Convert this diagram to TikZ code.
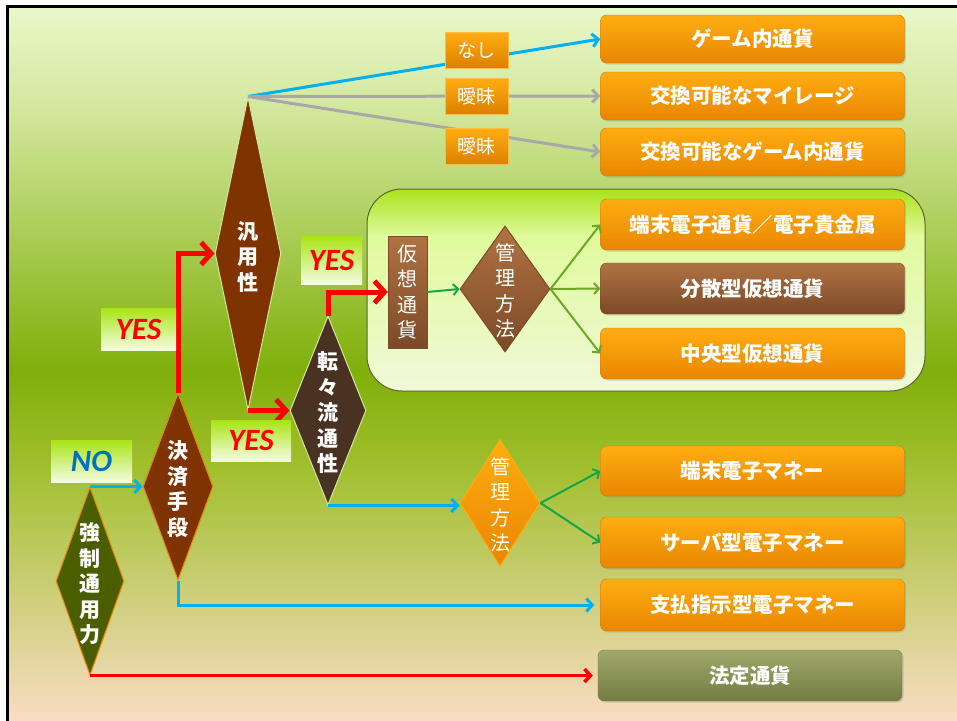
\documentclass[tikz,border=0pt]{standalone}
\usepackage{fontspec}
\newfontfamily\jp{Noto Sans CJK JP}
\newfontfamily\yesfont{Carlito}
\usetikzlibrary{arrows.meta,shapes.geometric,shadows}
\definecolor{bgA}{HTML}{E9F8CA}
\definecolor{bgB}{HTML}{D2E79C}
\definecolor{bgC}{HTML}{80AF0A}
\definecolor{bgD}{HTML}{A2C030}
\definecolor{bgE}{HTML}{FADDC6}
\definecolor{orT}{HTML}{FFAD12}
\definecolor{orB}{HTML}{E98600}
\definecolor{orD}{HTML}{C47A10}
\definecolor{brT}{HTML}{B07242}
\definecolor{brB}{HTML}{7C4A28}
\definecolor{olT}{HTML}{A0A86A}
\definecolor{olB}{HTML}{737C44}
\definecolor{dkbrown}{HTML}{7F3300}
\definecolor{dkolive}{HTML}{4A5E00}
\definecolor{dkgray}{HTML}{4A3222}
\definecolor{pnT}{HTML}{A6E012}
\definecolor{pnM}{HTML}{E0FA9C}
\definecolor{pnB}{HTML}{F0F9DA}
\definecolor{ybT}{HTML}{A8E414}
\definecolor{ybM}{HTML}{E6FBB0}
\definecolor{ybB}{HTML}{F4FCE2}
\definecolor{skyblue}{HTML}{00B0F0}
\definecolor{nogray}{HTML}{A8A8A8}
\definecolor{grn}{HTML}{12A848}
\definecolor{olgrn}{HTML}{6CA826}
\definecolor{noblue}{HTML}{0070C0}
\tikzset{
  obox/.style={rectangle, rounded corners=6pt, minimum width=304pt, minimum height=#1,
    inner sep=0pt, draw=orD, top color=orT, bottom color=orB, text=white,
    drop shadow={opacity=0.25, shadow xshift=1.5pt, shadow yshift=-1.5pt},
    font=\jp\bfseries\fontsize{20.5}{24}\selectfont},
  obox/.default=48pt,
  lbox/.style={rectangle, minimum width=63pt, minimum height=36pt, inner sep=0pt,
    draw=orT!80!white, top color=orT, bottom color=orB!95!black, text=white,
    font=\jp\fontsize{19}{22}\selectfont},
  ybox/.style={rectangle, minimum width=#1, inner sep=0pt,
    top color=ybT, middle color=ybM, bottom color=ybB,
    font=\yesfont\bfseries\itshape\fontsize{31}{32}\selectfont, text=red},
  dia/.style={diamond, inner sep=0pt, line width=1pt},
  vtext/.style={text=white, align=center, inner sep=0pt,
    font=\jp\bfseries\fontsize{21}{25.5}\selectfont},
  vtextn/.style={text=white, align=center, inner sep=0pt,
    font=\jp\fontsize{20}{25.5}\selectfont},
  redarr/.style={draw=red, line width=5pt, -{Straight Barb[length=10pt,width=22pt]}},
  bluearr/.style={draw=skyblue, line width=3pt, -{Straight Barb[length=6pt,width=13pt]}},
  grayarr/.style={draw=nogray, line width=3pt, -{Straight Barb[length=6pt,width=13pt]}},
  grnarr/.style={draw=grn, line width=2pt, -{Straight Barb[length=5pt,width=11pt]}},
  olarr/.style={draw=olgrn, line width=2pt, -{Straight Barb[length=5pt,width=11pt]}},
}
\begin{document}
\begin{tikzpicture}[x=1pt,y=-1pt]
\useasboundingbox (0,0) rectangle (957,720);
\clip (0,0) rectangle (957,720);
% background
\fill[white] (0,0) rectangle (957,720);
\shade[top color=bgA, bottom color=bgB] (7,6) rectangle (960,111);
\shade[top color=bgB, bottom color=bgC] (7,110) rectangle (960,371);
\shade[top color=bgC, bottom color=bgD] (7,370) rectangle (960,471);
\shade[top color=bgD, bottom color=bgE] (7,470) rectangle (960,725);
\draw[line width=3pt] (7,725) -- (7,6) -- (960,6);
% panel
\begin{scope}
\clip[rounded corners=35pt] (367,189) rectangle (925,391);
\shade[top color=pnT, bottom color=pnM] (360,185) rectangle (930,236);
\shade[top color=pnM, bottom color=pnB] (360,235) rectangle (930,395);
\end{scope}
\draw[draw=olB!80!black, line width=1pt, rounded corners=35pt] (367,189) rectangle (925,391);
% right boxes
\node[obox] (b1) at (752.5,39) {ゲーム内通貨};
\node[obox] (b2) at (752.5,96) {交換可能なマイレージ};
\node[obox] (b3) at (752.5,152) {交換可能なゲーム内通貨};
\node[obox=51pt] (b4) at (752.5,224.5) {端末電子通貨／電子貴金属};
\node[obox=51pt, draw=brB, top color=brT, bottom color=brB] (b5) at (752.5,288.5) {分散型仮想通貨};
\node[obox=51pt] (b6) at (752.5,353.5) {中央型仮想通貨};
\node[obox=50pt] (b7) at (752.5,471) {端末電子マネー};
\node[obox=51pt] (b8) at (752.5,542.5) {サーバ型電子マネー};
\node[obox=52pt] (b9) at (752.5,605) {支払指示型電子マネー};
\node[obox=51pt, draw=olB, top color=olT, bottom color=olB] (b10) at (750,675.5) {法定通貨};
% diamonds
\node[dia, draw=bgB, fill=dkbrown, minimum width=66pt, minimum height=313pt] (hy) at (248,253.5) {};
\node[dia, draw=orB, fill=dkbrown, minimum width=70pt, minimum height=187pt] (ks) at (178,486.5) {};
\node[dia, draw=orB, fill=dkolive, minimum width=68pt, minimum height=188pt] (ky) at (90,581) {};
\node[dia, draw=bgB, fill=dkgray, minimum width=76pt, minimum height=189pt] (tt) at (328,410.5) {};
\node[dia, draw=brB, top color=brT, bottom color=brB, minimum width=90pt, minimum height=126pt] (km1) at (505,289) {};
\node[dia, draw=orT, top color=orT, bottom color=orB, minimum width=80pt, minimum height=127pt] (km2) at (500,503) {};
\node[rectangle, draw=brB, top color=brT, bottom color=brB, minimum width=39pt, minimum height=112pt, inner sep=0pt] (kasou) at (407.5,292) {};
% diamond texts
\node[vtext] (hyt) at (248,257) {汎\\用\\性};
\node[vtext] (kst) at (178,489) {決\\済\\手\\段};
\node[vtext] (kyt) at (90,584) {強\\制\\通\\用\\力};
\node[vtext] (ttt) at (328,413) {転\\々\\流\\通\\性};
\node[vtextn] (km1t) at (505,291) {管\\理\\方\\法};
\node[vtextn] (km2t) at (500,505) {管\\理\\方\\法};
\node[vtextn] (kasout) at (407.5,292) {仮\\想\\通\\貨};
% fan lines
\draw[bluearr] (hy.north) -- (b1.west);
\draw[grayarr] (hy.north) -- (b2.west);
\draw[grayarr] (hy.north) -- (b3.west);
\node[lbox] (l1) at (476.5,50) {なし};
\node[lbox] (l2) at (476.5,96) {曖昧};
\node[lbox] (l3) at (476.5,146) {曖昧};
% red arrows
\draw[redarr] (ks.north) |- (hy.west);
\draw[redarr] (hy.south) -- (hy.south -| tt.west);
\draw[redarr] (tt.north) |- (kasou.west);
\draw[draw=red, line width=3.5pt, -{Straight Barb[length=6pt,width=13pt]}] (ky.south) -- ([xshift=-5pt]ky.south -| b10.west);
% blue arrows
\draw[bluearr] (ky.north) -- (ks.west);
\draw[bluearr] (ks.south) |- ([xshift=-6pt]b9.west);
\draw[bluearr] (tt.south) -- (tt.south -| km2.west);
% green arrows
\draw[grnarr] (kasou.east) -- (km1.west);
\draw[olarr] (km1.east) -- (b4.west);
\draw[olarr] (km1.east) -- (b5.west);
\draw[olarr] (km1.east) -- (b6.west);
\draw[grnarr] (km2.east) -- (b7.west);
\draw[grnarr] (km2.east) -- (b8.west);
% YES / NO labels
\node[ybox=75pt, minimum height=42pt] (y1) at (138.5,329) {YES};
\node[ybox=80pt, minimum height=41pt] (y2) at (251,440.5) {YES};
\node[ybox=61pt, minimum height=48pt] (y3) at (331.5,260) {YES};
\node[ybox=81pt, minimum height=42pt, text=noblue] (no) at (91.5,461) {NO};
\end{tikzpicture}
\end{document}
